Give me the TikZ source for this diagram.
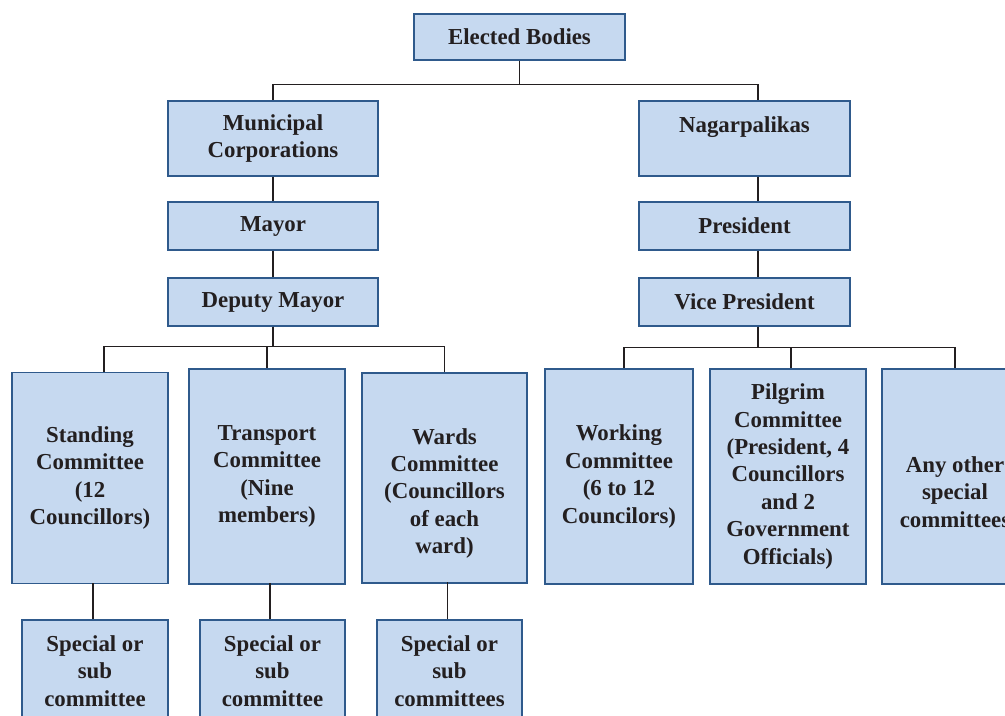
\documentclass[tikz,border=0pt]{standalone}
\usepackage{fontspec}
\setmainfont{Liberation Serif}
\definecolor{boxfill}{HTML}{C6D9F0}
\definecolor{boxline}{HTML}{2F5A8C}
\definecolor{inkdark}{HTML}{231F20}
\begin{document}
\begin{tikzpicture}[x=0.02cm, y=-0.02cm,
  box/.style={draw=boxline, fill=boxfill, line width=0.8pt, align=center, inner sep=0pt,
    text=inkdark, font=\fontsize{13}{15.6}\selectfont\bfseries},
  link/.style={draw=inkdark, line width=0.9pt}]
\useasboundingbox (0,0) rectangle (1005,716);
\clip (0,0) rectangle (1005,716);

% top
\node[box, minimum width=4.22cm, minimum height=0.92cm] (root) at (519.5,37) {Elected Bodies};

% municipal corporations column
\node[box, minimum width=4.2cm, minimum height=1.5cm] (mc) at (273,138.5) {Municipal\\Corporations};
\node[box, minimum width=4.2cm, minimum height=0.96cm] (mayor) at (273,226) {Mayor};
\node[box, minimum width=4.2cm, minimum height=0.96cm] (dmayor) at (273,302) {Deputy Mayor};

% nagarpalikas column
\node[box, minimum width=4.22cm, minimum height=1.5cm] (np) at (744.5,138.5) {Nagarpalikas\\\mbox{}};
\node[box, minimum width=4.22cm, minimum height=0.96cm] (pres) at (744.5,226) {President};
\node[box, minimum width=4.22cm, minimum height=0.96cm] (vpres) at (744.5,302) {Vice President};

% committees
\node[box, minimum width=3.12cm, minimum height=4.22cm] (stand) at (90,478) {Standing\\Committee\\(12\\Councillors)};
\node[box, minimum width=3.12cm, minimum height=4.3cm] (trans) at (267,476.5) {Transport\\Committee\\(Nine\\members)};
\node[box, minimum width=3.3cm, minimum height=4.2cm] (wards) at (444.5,478) {\strut\\Wards\\Committee\\(Councillors\\of each\\ward)};
\node[box, minimum width=2.96cm, minimum height=4.3cm] (work) at (619,476.5) {Working\\Committee\\(6 to 12\\Councilors)};
\node[box, minimum width=3.12cm, minimum height=4.3cm] (pilg) at (788,476.5) {Pilgrim\\Committee\\(President, 4\\Councillors\\and 2\\Government\\Officials)};
\node[box, minimum width=2.92cm, minimum height=4.3cm] (other) at (955,476.5) {\strut\\Any other\\special\\committees};

% sub committees
\node[box, minimum width=2.92cm, minimum height=2.04cm] (sub1) at (95,671) {Special or\\sub\\committee};
\node[box, minimum width=2.9cm, minimum height=2.04cm] (sub2) at (272.5,671) {Special or\\sub\\committee};
\node[box, minimum width=2.9cm, minimum height=2.04cm] (sub3) at (449.5,671) {Special or\\sub\\committees};

% connectors
\draw[link] (root.south) -- ++(0,24) -| (mc.north);
\draw[link] (root.south) -- ++(0,24) -| ([xshift=0.27cm]np.north);
\draw[link] (mc) -- (mayor);
\draw[link] (mayor) -- (dmayor);
\draw[link] ([xshift=0.27cm]np.south) -- ([xshift=0.27cm]pres.north);
\draw[link] ([xshift=0.27cm]pres.south) -- ([xshift=0.27cm]vpres.north);

\draw[link] (dmayor.south) -- ++(0,20) -| ([xshift=0.28cm]stand.north);
\draw[link] (dmayor.south) -- ++(0,20) -| (trans.north);
\draw[link] (dmayor.south) -- ++(0,20) -| (wards.north);

\draw[link] ([xshift=0.27cm]vpres.south) -- ++(0,21) -| ([xshift=0.1cm]work.north);
\draw[link] ([xshift=0.27cm]vpres.south) -- ++(0,21) -| ([xshift=0.06cm]pilg.north);
\draw[link] ([xshift=0.27cm]vpres.south) -- ++(0,21) -| (other.north);

\draw[link] (sub1.north -| stand.south) ++(3,0) -- ++(0,-36);
\draw[link] (sub2.north -| trans.south) ++(3,0) -- ++(0,-36);
\draw[link] (sub3.north -| wards.south) ++(3,0) -- ++(0,-37);
\end{tikzpicture}
\end{document}
